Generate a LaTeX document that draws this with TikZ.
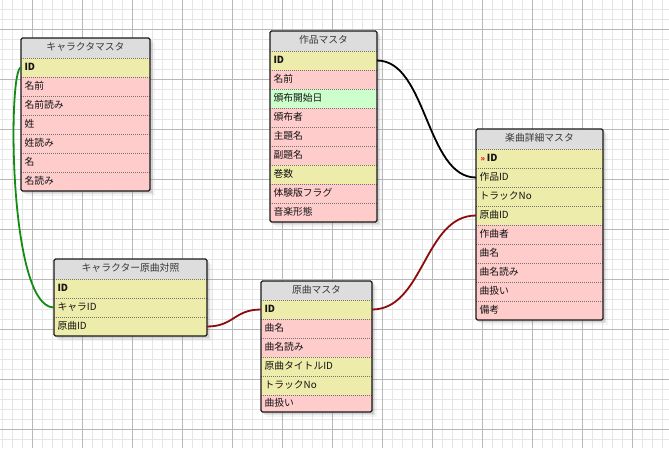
\documentclass[tikz,border=0pt]{standalone}
\usepackage{fontspec}
\setmainfont{Noto Sans CJK JP}
\usetikzlibrary{shadows}

\definecolor{keycol}{RGB}{238,236,170}
\definecolor{txtcol}{RGB}{255,204,204}
\definecolor{datecol}{RGB}{204,255,204}
\definecolor{headcol}{RGB}{221,221,221}
\definecolor{minorcol}{RGB}{229,229,229}
\definecolor{majorcol}{RGB}{184,184,184}
\definecolor{fkgreen}{RGB}{20,140,20}
\definecolor{fkred}{RGB}{140,12,12}

\tikzset{
  wd/.style={minimum width=#1, text width=#1-7},
  base/.style={draw=none, anchor=north west, inner xsep=3.5pt, inner ysep=0pt,
    outer sep=0pt, text height=7pt, text depth=2pt,
    font=\fontsize{9.8}{11}\selectfont},
  head/.style={base, fill=headcol, minimum height=20, align=center, text=black!78},
  cell/.style={base, fill=#1, minimum height=19, text=black!92,
    path picture={\draw[black!55, line width=0.8pt, dash pattern=on 0.8pt off 1.2pt]
      ([yshift=-0.4pt]path picture bounding box.north west) --
      ([yshift=-0.4pt]path picture bounding box.north east);}},
  frame/.style={draw=black!90, line width=1.1pt, rounded corners=1.5pt},
  shadowbox/.style={fill=white,
    drop shadow={shadow xshift=1.5pt, shadow yshift=-1.5pt, opacity=.18},
    drop shadow={shadow xshift=3pt, shadow yshift=-3pt, opacity=.14},
    drop shadow={shadow xshift=4.5pt, shadow yshift=-4.5pt, opacity=.08}},
  link/.style={line width=1.8pt},
}

\begin{document}
\begin{tikzpicture}[x=1pt, y=-1pt]
    \useasboundingbox (0,0) rectangle (669,448);
    \fill[white] (0,0) rectangle (669,448);

    % grid
    \foreach \gx in {2.7,12.7,...,669} \draw[minorcol, line width=0.8pt] (\gx,0) -- (\gx,448);
    \foreach \gy in {9.3,19.3,...,448} \draw[minorcol, line width=0.8pt] (0,\gy) -- (669,\gy);
    \foreach \gx in {32.7,82.7,...,669} \draw[majorcol, line width=0.9pt] (\gx,0) -- (\gx,448);
    \foreach \gy in {29.3,79.3,...,448} \draw[majorcol, line width=0.9pt] (0,\gy) -- (669,\gy);

    % キャラクタマスタ
    \fill[shadowbox] (21,38) rectangle +(129,153);
    \node[head, wd=129] at (21,38) (ch0) {キャラクタマスタ};
    \node[cell=keycol, wd=129] at (ch0.south west) (ch1) {\bfseries ID};
    \node[cell=txtcol, wd=129] at (ch1.south west) (ch2) {名前};
    \node[cell=txtcol, wd=129] at (ch2.south west) (ch3) {名前読み};
    \node[cell=txtcol, wd=129] at (ch3.south west) (ch4) {姓};
    \node[cell=txtcol, wd=129] at (ch4.south west) (ch5) {姓読み};
    \node[cell=txtcol, wd=129] at (ch5.south west) (ch6) {名};
    \node[cell=txtcol, wd=129] at (ch6.south west) (ch7) {名読み};
    \draw[frame] (ch0.north west) rectangle (ch7.south east);

    % 作品マスタ
    \fill[shadowbox] (270,31) rectangle +(107,191);
    \node[head, wd=107] at (270,31) (wk0) {作品マスタ};
    \node[cell=keycol, wd=107] at (wk0.south west) (wk1) {\bfseries ID};
    \node[cell=txtcol, wd=107] at (wk1.south west) (wk2) {名前};
    \node[cell=datecol, wd=107] at (wk2.south west) (wk3) {頒布開始日};
    \node[cell=txtcol, wd=107] at (wk3.south west) (wk4) {頒布者};
    \node[cell=txtcol, wd=107] at (wk4.south west) (wk5) {主題名};
    \node[cell=txtcol, wd=107] at (wk5.south west) (wk6) {副題名};
    \node[cell=keycol, wd=107] at (wk6.south west) (wk7) {巻数};
    \node[cell=txtcol, wd=107] at (wk7.south west) (wk8) {体験版フラグ};
    \node[cell=txtcol, wd=107] at (wk8.south west) (wk9) {音楽形態};
    \draw[frame] (wk0.north west) rectangle (wk9.south east);

    % 楽曲詳細マスタ
    \fill[shadowbox] (476,129) rectangle +(127,191);
    \node[head, wd=127] at (476,129) (sg0) {楽曲詳細マスタ};
    \node[cell=keycol, wd=127] at (sg0.south west) (sg1)
        {\hspace{1pt}\textcolor{red}{\fontsize{8}{8}\selectfont\bfseries »}\hspace{2pt}\bfseries ID};
    \node[cell=keycol, wd=127] at (sg1.south west) (sg2) {作品ID};
    \node[cell=keycol, wd=127] at (sg2.south west) (sg3) {トラックNo};
    \node[cell=keycol, wd=127] at (sg3.south west) (sg4) {原曲ID};
    \node[cell=txtcol, wd=127] at (sg4.south west) (sg5) {作曲者};
    \node[cell=txtcol, wd=127] at (sg5.south west) (sg6) {曲名};
    \node[cell=txtcol, wd=127] at (sg6.south west) (sg7) {曲名読み};
    \node[cell=txtcol, wd=127] at (sg7.south west) (sg8) {曲扱い};
    \node[cell=txtcol, wd=127] at (sg8.south west) (sg9) {備考};
    \draw[frame] (sg0.north west) rectangle (sg9.south east);

    % キャラクター原曲対照
    \fill[shadowbox] (54,259) rectangle +(153,77);
    \node[head, wd=153] at (54,259) (cr0) {キャラクター原曲対照};
    \node[cell=keycol, wd=153] at (cr0.south west) (cr1) {\bfseries ID};
    \node[cell=keycol, wd=153] at (cr1.south west) (cr2) {キャラID};
    \node[cell=keycol, wd=153] at (cr2.south west) (cr3) {原曲ID};
    \draw[frame] (cr0.north west) rectangle (cr3.south east);

    % 原曲マスタ
    \fill[shadowbox] (261,281) rectangle +(111,131);
    \node[head, wd=111, minimum height=19] at (261,281) (og0) {原曲マスタ};
    \node[cell=keycol, wd=111] at (og0.south west) (og1) {\bfseries ID};
    \node[cell=txtcol, wd=111] at (og1.south west) (og2) {曲名};
    \node[cell=txtcol, wd=111] at (og2.south west) (og3) {曲名読み};
    \node[cell=keycol, wd=111] at (og3.south west) (og4) {原曲タイトルID};
    \node[cell=keycol, wd=111] at (og4.south west) (og5) {トラックNo};
    \node[cell=txtcol, wd=111, minimum height=17] at (og5.south west) (og6) {曲扱い};
    \draw[frame] (og0.north west) rectangle (og6.south east);

    % relations
    \draw[link, fkgreen] (ch1.west) .. controls +(-13,0) and +(-46,0) .. (cr2.west);
    \draw[link, black] (wk1.east) .. controls +(50,0) and +(-50,0) .. (sg2.west);
    \draw[link, fkred] (cr3.east) .. controls +(27,0) and +(-27,0) .. (og1.west);
    \draw[link, fkred] (og1.east) .. controls +(52,0) and +(-52,0) .. (sg4.west);
\end{tikzpicture}
\end{document}
